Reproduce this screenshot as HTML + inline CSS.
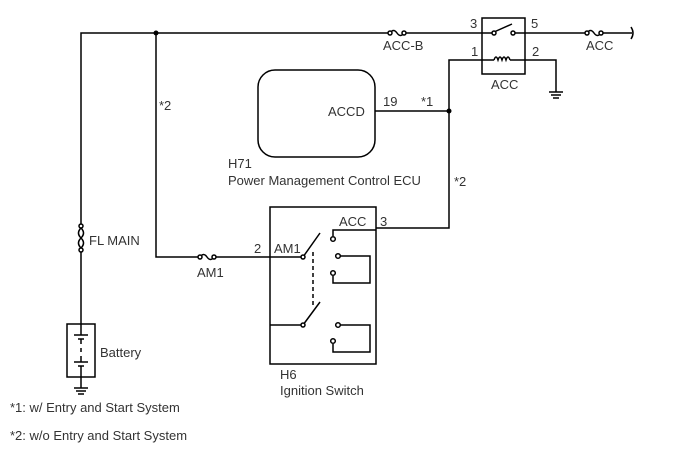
<!DOCTYPE html>
<html><head><style>body{margin:0;background:#fff}svg{display:block}text{font-family:"Liberation Sans",Arial,sans-serif;font-size:13px;fill:#333}</style></head><body>
<svg width="688" height="463" viewBox="0 0 688 463" xmlns="http://www.w3.org/2000/svg">
<g stroke="#000" stroke-width="1.5" fill="none">
<path d="M81 228 V33 H390 M404 33 H482"/>
<path d="M390 33 q3.5 -5 7 0 t7 0"/>
<circle cx="390" cy="33" r="2" fill="#fff"/><circle cx="404" cy="33" r="2" fill="#fff"/>
<rect x="482" y="18" width="43" height="56"/>
<path d="M525 33 H587 M601 33 H632"/>
<path d="M587 33 q3.5 -5 7 0 t7 0"/>
<circle cx="587" cy="33" r="2" fill="#fff"/><circle cx="601" cy="33" r="2" fill="#fff"/>
<path d="M631 27 q4 6 0 12"/>
<path d="M482 33 H493 M513 33 H525 M494 32 L512 24"/>
<circle cx="494" cy="33" r="2" fill="#fff"/><circle cx="513" cy="33" r="2" fill="#fff"/>
<path d="M449 111 V60 H494 M510 60 H525 M494 60 q2 -6 4 0 q2 -6 4 0 q2 -6 4 0 q2 -6 4 0"/>
<path d="M525 60 H556 V92 M549 92 H563 M551 95 H561 M553 98 H559"/>
<rect x="258" y="70" width="117" height="87" rx="17"/>
<path d="M375 111 H449 V228 H376"/>
<path d="M156 33 V257 H200 M214 257 H303"/>
<path d="M200 257 q3.5 -5 7 0 t7 0"/>
<circle cx="200" cy="257" r="2" fill="#fff"/><circle cx="214" cy="257" r="2" fill="#fff"/>
<rect x="270" y="207" width="106" height="157"/>
<path d="M303 257 L320 233 M303 325 L320 302 M270 325 H303"/>
<path d="M313 252 V308" stroke-dasharray="4 3"/>
<path d="M333 236 V230 H376 M340 256 H370 V283 H333 V276 M340 325 H370 V352 H333 V344"/>
<circle cx="303" cy="257" r="2" fill="#fff"/><circle cx="333" cy="239" r="2.3" fill="#fff"/><circle cx="338" cy="256" r="2.3" fill="#fff"/><circle cx="333" cy="273" r="2.3" fill="#fff"/>
<circle cx="303" cy="325" r="2" fill="#fff"/><circle cx="338" cy="325" r="2.3" fill="#fff"/><circle cx="333" cy="341" r="2.3" fill="#fff"/>
<path d="M81 228 q-5 5 0 10 q5 5 0 10 M81 228 q5 5 0 10 q-5 5 0 10"/>
<circle cx="81" cy="226" r="2" fill="#fff"/><circle cx="81" cy="250" r="2" fill="#fff"/>
<path d="M81 252 V324"/>
<rect x="67" y="324" width="28" height="53"/>
<path d="M81 324 V335 M74 335 H88 M78 339 H84 M81 339 V344 M81 348 V352 M81 356 V362 M74 362 H88 M78 366 H84 M81 366 V377 M81 377 V388 M74 388 H88 M76 391 H86 M78 394 H84"/>
</g>
<g fill="#000"><circle cx="156" cy="33" r="2.5"/><circle cx="449" cy="111" r="2.5"/></g>
<text x="383" y="50">ACC-B</text>
<text x="470" y="28">3</text><text x="531" y="28">5</text>
<text x="471" y="56">1</text><text x="532" y="56">2</text>
<text x="491" y="89">ACC</text><text x="586" y="50">ACC</text>
<text x="159" y="110">*2</text>
<text x="328" y="116">ACCD</text><text x="383" y="106">19</text><text x="421" y="106">*1</text>
<text x="228" y="168">H71</text><text x="228" y="185">Power Management Control ECU</text>
<text x="454" y="186">*2</text>
<text x="339" y="226">ACC</text><text x="380" y="226">3</text>
<text x="254" y="253">2</text><text x="274" y="253">AM1</text>
<text x="197" y="277">AM1</text>
<text x="89" y="245">FL MAIN</text>
<text x="100" y="357">Battery</text>
<text x="280" y="379">H6</text><text x="280" y="395">Ignition Switch</text>
<text x="10" y="412">*1: w/ Entry and Start System</text>
<text x="10" y="440">*2: w/o Entry and Start System</text>
</svg>
</body></html>
